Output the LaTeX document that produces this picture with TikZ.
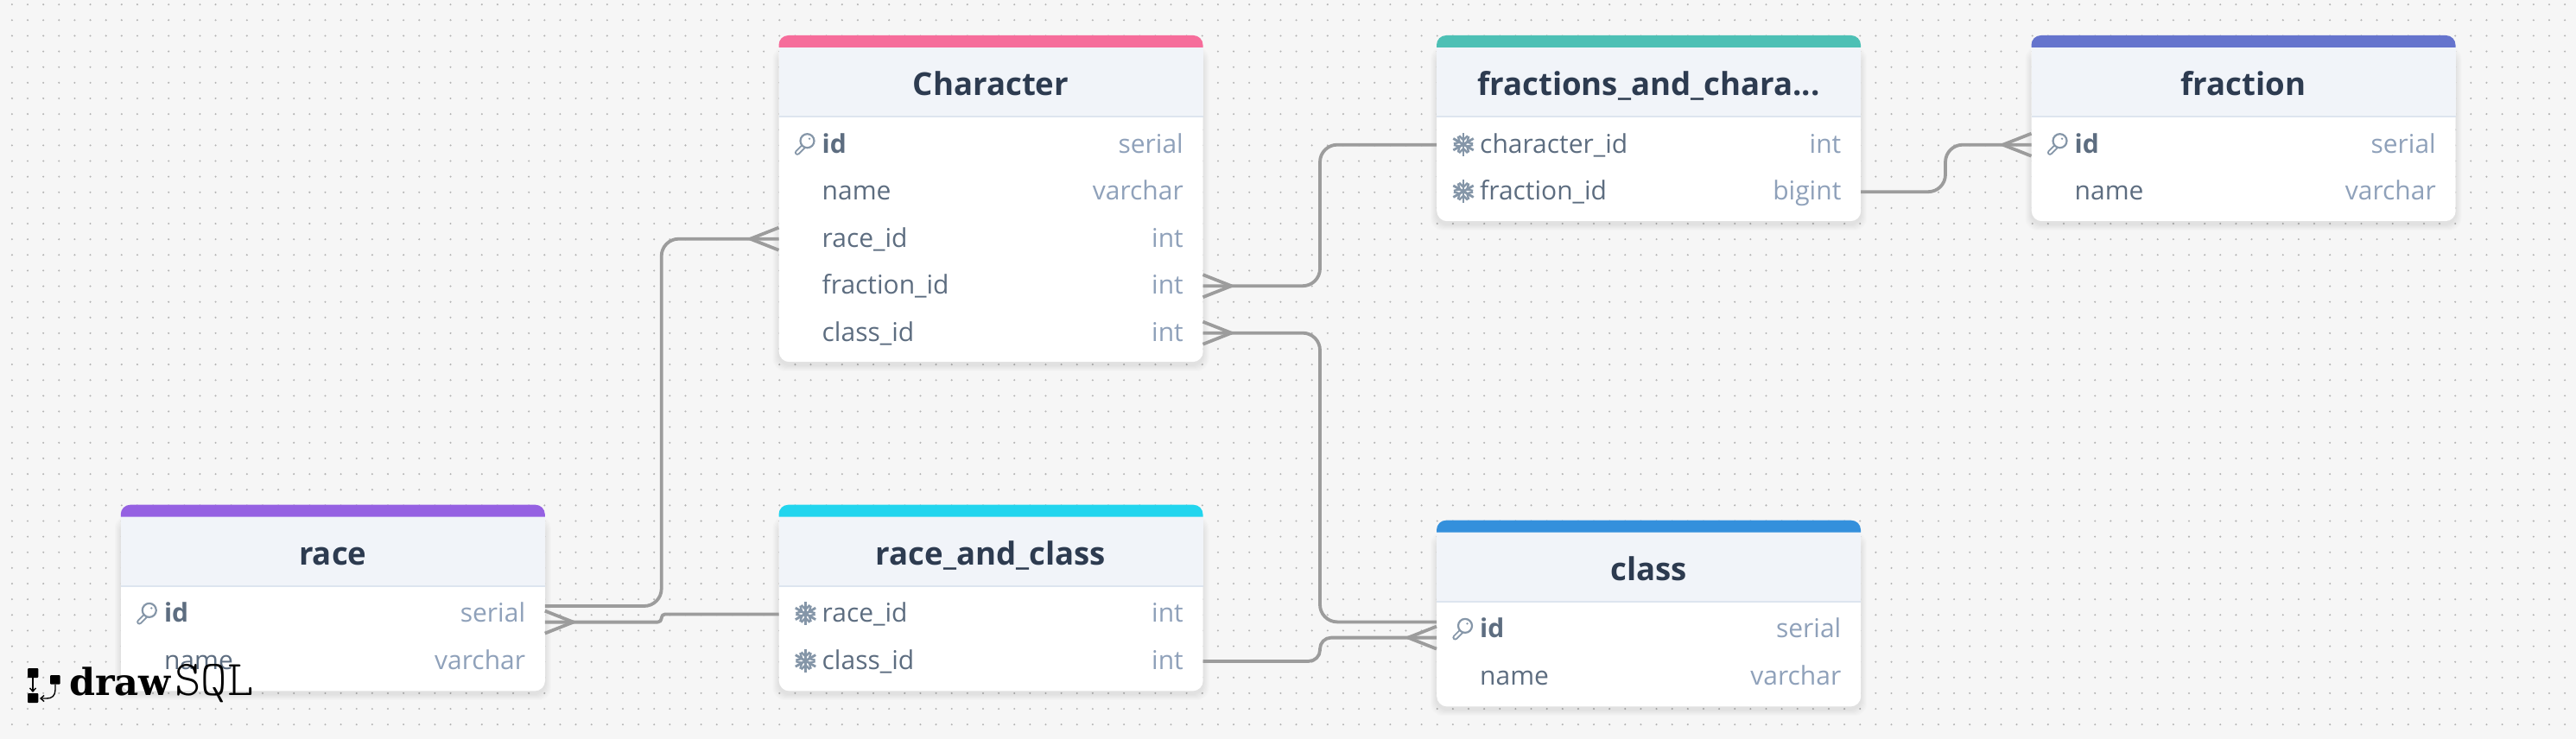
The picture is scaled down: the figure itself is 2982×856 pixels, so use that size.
\documentclass[tikz,border=0pt]{standalone}
\usepackage{fontspec}
\setmainfont{Open Sans}
\newfontfamily\logoheavy{DejaVu Serif}
\usetikzlibrary{arrows.meta}
\definecolor{bgc}{HTML}{F6F6F6}
\definecolor{dotc}{HTML}{B4B4B4}
\definecolor{headc}{HTML}{F1F4F9}
\definecolor{rulec}{HTML}{DDE5EF}
\definecolor{titlec}{HTML}{2D3B50}
\definecolor{namec}{HTML}{5D6D80}
\definecolor{typec}{HTML}{8FA1BA}
\definecolor{iconc}{HTML}{8596A8}
\definecolor{relc}{HTML}{9C9C9C}
\definecolor{cpink}{HTML}{F66D9B}
\definecolor{cpurple}{HTML}{9561E2}
\definecolor{ccyan}{HTML}{22D5EE}
\definecolor{cteal}{HTML}{4DC0B5}
\definecolor{cindigo}{HTML}{6574CD}
\definecolor{cblue}{HTML}{3490DC}
\tikzset{
  x=1pt,y=-1pt,
  cardbody/.style={fill=white,draw=none,rounded corners=12pt,inner sep=0pt,anchor=north west},
  titletext/.style={anchor=base,inner sep=0pt,text=titlec,font=\fontsize{36.6}{40}\selectfont\bfseries},
  nametext/.style={anchor=base west,inner sep=0pt,text=namec,font=\fontsize{30}{36}\selectfont},
  idtext/.style={anchor=base west,inner sep=0pt,text=namec,font=\fontsize{30}{36}\selectfont\bfseries},
  typetext/.style={anchor=base east,inner sep=0pt,text=typec,font=\fontsize{30}{36}\selectfont},
  rel/.style={draw=relc,line width=3.8pt,line join=round},
  keyicon/.pic={
    \draw[iconc,line width=6.2pt,line cap=round] (2,2) -- (-6.5,10.5);
    \draw[white,line width=2.4pt,line cap=round] (2,2) -- (-6.5,10.5);
    \draw[iconc,line width=2.2pt,fill=white] (5,-3) circle (8);
    \fill[iconc] (7.5,-5.5) circle (1.3);
  },
  flakeicon/.pic={
    \foreach \a in {30,90,150,210,270,330}{
      \draw[iconc,line width=2.8pt] (0,0) -- (\a:13.5);
      \draw[iconc,line width=2.4pt] (\a:5) -- ++(\a+45:7);
      \draw[iconc,line width=2.4pt] (\a:5) -- ++(\a-45:7);
    }
  }
}
% #1 id, #2 left, #3 top, #4 body height, #5 colour, #6 title, #7 rows kind/name/type
\newcommand{\erdcard}[7]{%
  \foreach \s in {1,...,7}{
    \fill[black,opacity=0.013,rounded corners=14pt] (#2-8+\s,#3+12+\s) rectangle (#2+491+8-\s,#3+#4+12-\s);
  }
  \node[cardbody,minimum width=491pt,minimum height=#4 pt] (#1) at (#2,#3) {};
  \fill[headc] (#2,#3+13) rectangle (#2+491,#3+94);
  \fill[rulec] (#2,#3+93) rectangle (#2+491,#3+95);
  \fill[#5,rounded corners=11pt] (#2,#3+14) -- (#2,#3) -- (#2+491,#3) -- (#2+491,#3+14);
  \node[titletext] (#1-title) at (#2+245.5,#3+69.5) {#6};
  \foreach \k/\n/\t [count=\i] in {#7}{
    \pgfmathsetmacro{\by}{#3+136.2+54.5*(\i-1)}
    \coordinate (#1-L\i) at (#2,\by-9.5);
    \coordinate (#1-R\i) at (#2+491,\by-9.5);
    \if\k k
      \node[idtext] (#1-name\i) at (#2+50,\by) {\n};
      \pic at (#2+28,\by-11) {keyicon};
    \else
      \if\k f
        \pic at (#2+31,\by-10) {flakeicon};
      \fi
      \node[nametext] (#1-name\i) at (#2+50,\by) {\n};
    \fi
    \node[typetext] (#1-type\i) at (#2+468.5,\by) {\t};
  }
}
\begin{document}
\begin{tikzpicture}
\useasboundingbox (0,0) rectangle (2982,856);
\fill[bgc] (0,0) rectangle (2982,856);
\foreach \j in {0,...,46}{
  \draw[dotc,line width=2.3pt,line cap=round,dash pattern=on 0pt off 18.13pt] (13.9,5.2+18.13*\j) -- (2982,5.2+18.13*\j);
}

\erdcard{char}{901.5}{41}{378}{cpink}{Character}{k/id/serial,n/name/varchar,n/race\_id/int,n/fraction\_id/int,n/class\_id/int}
\erdcard{fac}{1663}{41}{215}{cteal}{fractions\_and\_chara...}{f/character\_id/int,f/fraction\_id/bigint}
\erdcard{frac}{2351.5}{41}{215}{cindigo}{fraction}{k/id/serial,n/name/varchar}
\erdcard{race}{139.8}{584.7}{215.5}{cpurple}{race}{k/id/serial,n/name/varchar}
\erdcard{rac}{901.5}{584.7}{215.5}{ccyan}{race\_and\_class}{f/race\_id/int,f/class\_id/int}
\erdcard{cls}{1663}{602.7}{215.5}{cblue}{class}{k/id/serial,n/name/varchar}

% bundle points beside the primary keys
\path (race-R1) ++(0,-9.4) coordinate (raceA);
\path (race-R1) ++(0,9.2) coordinate (raceB);
\path (cls-L1) ++(0,-9) coordinate (clsA);
\path (cls-L1) ++(0,9.2) coordinate (clsB);
\coordinate (busRace) at (765.7,0);
\coordinate (busChar) at (1528,0);
\coordinate (busFrac) at (2252,0);

% connectors
\draw[rel,rounded corners=20pt] (raceA) -- (busRace |- raceA) -- (busRace |- char-L3) -- (char-L3);
\draw[rel,rounded corners=4.3pt] (raceB) -- (busRace |- raceB) -- (busRace |- rac-L1) -- (rac-L1);
\draw[rel,rounded corners=20pt] (char-R4) -- (busChar |- char-R4) -- (busChar |- fac-L1) -- (fac-L1);
\draw[rel,rounded corners=20pt] (char-R5) -- (busChar |- char-R5) -- (busChar |- clsA) -- (clsA);
\draw[rel,rounded corners=13pt] (rac-R2) -- (busChar |- rac-R2) -- (busChar |- clsB) -- (clsB);
\draw[rel,rounded corners=20pt] (fac-R2) -- (busFrac |- fac-R2) -- (busFrac |- frac-L1) -- (frac-L1);

% crow's feet
\draw[rel] (char-L3) ++(0,-13) -- ++(-33,13) -- ++(33,13);
\draw[rel] (char-R4) ++(0,-13) -- ++(33,13) -- ++(-33,13);
\draw[rel] (char-R5) ++(0,-13) -- ++(33,13) -- ++(-33,13);
\draw[rel] (frac-L1) ++(0,-13) -- ++(-33,13) -- ++(33,13);
\draw[rel] (clsB) ++(0,-13) -- ++(-33,13) -- ++(33,13);
\draw[rel] (raceB) ++(0,-13) -- ++(33,13) -- ++(-33,13);

% logo
\fill[black,rounded corners=1pt] (32,774) rectangle (44.3,785);
\fill[black,rounded corners=1pt] (58,782) rectangle (69.7,792.7);
\fill[black,rounded corners=1pt] (32,803) rectangle (44.3,814);
\draw[black,line width=1.4pt,-{Straight Barb[length=4pt,width=7pt]}] (38,785) -- (38,802);
\draw[black,line width=1.4pt,-{Straight Barb[length=4pt,width=7pt]}] (64,792.7) -- (64,799) .. controls (64,806) and (60,809) .. (54,809) -- (46,809);
\node[anchor=base west,inner sep=0pt,font=\logoheavy\bfseries\fontsize{43}{46}\selectfont] (logoa) at (80,805.5) {draw};
\node[anchor=base west,inner sep=0pt,font=\ttfamily\fontseries{l}\fontsize{58}{62}\selectfont] (logob) at (202,805.5) {SQL};
\end{tikzpicture}
\end{document}
